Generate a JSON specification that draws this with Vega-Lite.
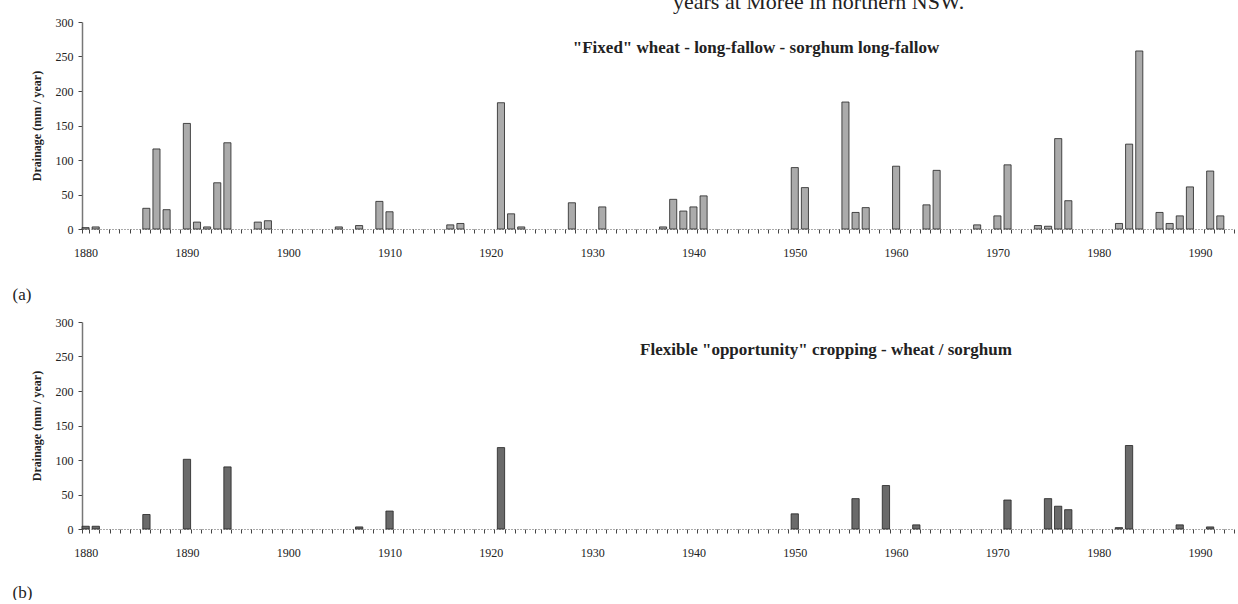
{
  "$schema": "https://vega.github.io/schema/vega-lite/v6.json",
  "background": "white",
  "padding": {"left": 12, "top": -9, "right": 0, "bottom": 0},
  "title": {"text": "years at Moree in northern NSW.", "anchor": "start", "frame": "group", "font": "Liberation Serif", "fontSize": 22, "fontWeight": "normal", "color": "#222", "dx": 591, "offset": 2},
  "config": {
    "view": {"stroke": null},
    "axis": {"labelFont": "Liberation Serif", "labelFontSize": 12, "labelColor": "#222", "titleFont": "Liberation Serif", "titleColor": "#222", "tickColor": "#444", "grid": false}
  },
  "datasets": {
    "drainage": [
      {"panel": "a", "year": 1880, "value": 2}, {"panel": "a", "year": 1881, "value": 3},
      {"panel": "a", "year": 1886, "value": 30}, {"panel": "a", "year": 1887, "value": 116},
      {"panel": "a", "year": 1888, "value": 28}, {"panel": "a", "year": 1890, "value": 153},
      {"panel": "a", "year": 1891, "value": 10}, {"panel": "a", "year": 1892, "value": 3},
      {"panel": "a", "year": 1893, "value": 67}, {"panel": "a", "year": 1894, "value": 125},
      {"panel": "a", "year": 1897, "value": 10}, {"panel": "a", "year": 1898, "value": 12},
      {"panel": "a", "year": 1905, "value": 3}, {"panel": "a", "year": 1907, "value": 5},
      {"panel": "a", "year": 1909, "value": 40}, {"panel": "a", "year": 1910, "value": 25},
      {"panel": "a", "year": 1916, "value": 6}, {"panel": "a", "year": 1917, "value": 8},
      {"panel": "a", "year": 1921, "value": 183}, {"panel": "a", "year": 1922, "value": 22},
      {"panel": "a", "year": 1923, "value": 3}, {"panel": "a", "year": 1928, "value": 38},
      {"panel": "a", "year": 1931, "value": 32}, {"panel": "a", "year": 1937, "value": 3},
      {"panel": "a", "year": 1938, "value": 43}, {"panel": "a", "year": 1939, "value": 26},
      {"panel": "a", "year": 1940, "value": 32}, {"panel": "a", "year": 1941, "value": 48},
      {"panel": "a", "year": 1950, "value": 89}, {"panel": "a", "year": 1951, "value": 60},
      {"panel": "a", "year": 1955, "value": 184}, {"panel": "a", "year": 1956, "value": 24},
      {"panel": "a", "year": 1957, "value": 31}, {"panel": "a", "year": 1960, "value": 91},
      {"panel": "a", "year": 1963, "value": 35}, {"panel": "a", "year": 1964, "value": 85},
      {"panel": "a", "year": 1968, "value": 6}, {"panel": "a", "year": 1970, "value": 19},
      {"panel": "a", "year": 1971, "value": 93}, {"panel": "a", "year": 1974, "value": 5},
      {"panel": "a", "year": 1975, "value": 4}, {"panel": "a", "year": 1976, "value": 131},
      {"panel": "a", "year": 1977, "value": 41}, {"panel": "a", "year": 1982, "value": 8},
      {"panel": "a", "year": 1983, "value": 123}, {"panel": "a", "year": 1984, "value": 258},
      {"panel": "a", "year": 1986, "value": 24}, {"panel": "a", "year": 1987, "value": 8},
      {"panel": "a", "year": 1988, "value": 19}, {"panel": "a", "year": 1989, "value": 61},
      {"panel": "a", "year": 1991, "value": 84}, {"panel": "a", "year": 1992, "value": 19},
      {"panel": "b", "year": 1880, "value": 4}, {"panel": "b", "year": 1881, "value": 4},
      {"panel": "b", "year": 1886, "value": 21}, {"panel": "b", "year": 1890, "value": 101},
      {"panel": "b", "year": 1894, "value": 90}, {"panel": "b", "year": 1907, "value": 3},
      {"panel": "b", "year": 1910, "value": 26}, {"panel": "b", "year": 1921, "value": 118},
      {"panel": "b", "year": 1950, "value": 22}, {"panel": "b", "year": 1956, "value": 44},
      {"panel": "b", "year": 1959, "value": 63}, {"panel": "b", "year": 1962, "value": 6},
      {"panel": "b", "year": 1971, "value": 42}, {"panel": "b", "year": 1975, "value": 44},
      {"panel": "b", "year": 1976, "value": 33}, {"panel": "b", "year": 1977, "value": 28},
      {"panel": "b", "year": 1982, "value": 2}, {"panel": "b", "year": 1983, "value": 121},
      {"panel": "b", "year": 1988, "value": 6}, {"panel": "b", "year": 1991, "value": 3}
    ]
  },
  "bounds": "flush",
  "spacing": 93,
  "vconcat": [
    {
      "width": 1152,
      "height": 207,
      "data": {"name": "drainage"},
      "transform": [{"filter": "datum.panel === 'a'"}],
      "title": {"text": "\"Fixed\" wheat - long-fallow - sorghum long-fallow", "anchor": "middle", "frame": "group", "font": "Liberation Serif", "fontSize": 17, "fontWeight": "bold", "color": "#222", "dx": 98, "offset": -49, "baseline": "middle"},
      "mark": {"type": "bar", "fill": "#ababab", "stroke": "#222", "strokeWidth": 0.8},
      "encoding": {
        "x": {"field": "year", "type": "ordinal",
          "scale": {"domain": [1880,1881,1882,1883,1884,1885,1886,1887,1888,1889,1890,1891,1892,1893,1894,1895,1896,1897,1898,1899,1900,1901,1902,1903,1904,1905,1906,1907,1908,1909,1910,1911,1912,1913,1914,1915,1916,1917,1918,1919,1920,1921,1922,1923,1924,1925,1926,1927,1928,1929,1930,1931,1932,1933,1934,1935,1936,1937,1938,1939,1940,1941,1942,1943,1944,1945,1946,1947,1948,1949,1950,1951,1952,1953,1954,1955,1956,1957,1958,1959,1960,1961,1962,1963,1964,1965,1966,1967,1968,1969,1970,1971,1972,1973,1974,1975,1976,1977,1978,1979,1980,1981,1982,1983,1984,1985,1986,1987,1988,1989,1990,1991,1992,1993], "paddingInner": 0.3, "paddingOuter": 0},
          "axis": {"title": "(a)", "titleX": -70, "titleY": 65, "titleAlign": "left", "titleBaseline": "middle", "titleFontSize": 17, "titleFontWeight": "normal", "tickBand": "extent", "labelAngle": 0, "labelOverlap": false, "labelExpr": "datum.value % 10 === 0 ? datum.value : ''", "tickSize": 4, "labelPadding": 14, "domainColor": "#555", "domainDash": [1, 2]}},
        "y": {"field": "value", "type": "quantitative",
          "scale": {"domain": [0, 300], "nice": false},
          "axis": {"title": "Drainage (mm / year)", "values": [0, 50, 100, 150, 200, 250, 300], "titleX": -46, "titleY": 103.5, "titleAngle": 270, "titleAlign": "center", "titleBaseline": "middle", "titleFontSize": 12, "titleFontWeight": "bold", "tickSize": 4, "labelPadding": 5, "domainColor": "#777", "domainWidth": 1.5}}
      }
    },
    {
      "width": 1152,
      "height": 207,
      "data": {"name": "drainage"},
      "transform": [{"filter": "datum.panel === 'b'"}],
      "title": {"text": "Flexible \"opportunity\" cropping - wheat / sorghum", "anchor": "middle", "frame": "group", "font": "Liberation Serif", "fontSize": 17, "fontWeight": "bold", "color": "#222", "dx": 168, "offset": -51, "baseline": "middle"},
      "mark": {"type": "bar", "fill": "#6a6a6a", "stroke": "#222", "strokeWidth": 0.8},
      "encoding": {
        "x": {"field": "year", "type": "ordinal",
          "scale": {"domain": [1880,1881,1882,1883,1884,1885,1886,1887,1888,1889,1890,1891,1892,1893,1894,1895,1896,1897,1898,1899,1900,1901,1902,1903,1904,1905,1906,1907,1908,1909,1910,1911,1912,1913,1914,1915,1916,1917,1918,1919,1920,1921,1922,1923,1924,1925,1926,1927,1928,1929,1930,1931,1932,1933,1934,1935,1936,1937,1938,1939,1940,1941,1942,1943,1944,1945,1946,1947,1948,1949,1950,1951,1952,1953,1954,1955,1956,1957,1958,1959,1960,1961,1962,1963,1964,1965,1966,1967,1968,1969,1970,1971,1972,1973,1974,1975,1976,1977,1978,1979,1980,1981,1982,1983,1984,1985,1986,1987,1988,1989,1990,1991,1992,1993], "paddingInner": 0.28, "paddingOuter": 0},
          "axis": {"title": "(b)", "titleX": -70, "titleY": 63, "titleAlign": "left", "titleBaseline": "middle", "titleFontSize": 17, "titleFontWeight": "normal", "tickBand": "extent", "labelAngle": 0, "labelOverlap": false, "labelExpr": "datum.value % 10 === 0 ? datum.value : ''", "tickSize": 4, "labelPadding": 14, "domainColor": "#555", "domainDash": [1, 2]}},
        "y": {"field": "value", "type": "quantitative",
          "scale": {"domain": [0, 300], "nice": false},
          "axis": {"title": "Drainage (mm / year)", "values": [0, 50, 100, 150, 200, 250, 300], "titleX": -46, "titleY": 103.5, "titleAngle": 270, "titleAlign": "center", "titleBaseline": "middle", "titleFontSize": 12, "titleFontWeight": "bold", "tickSize": 4, "labelPadding": 5, "domainColor": "#777", "domainWidth": 1.5}}
      }
    }
  ]
}
